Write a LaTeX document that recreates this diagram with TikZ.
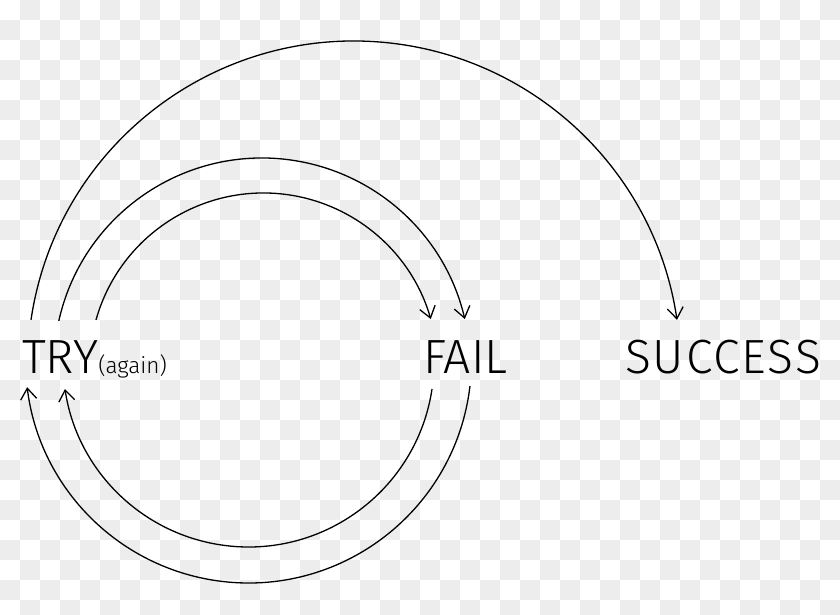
\documentclass[tikz,border=0pt]{standalone}
\usepackage{fontspec}
\IfFontExistsTF{Fira Sans Light}{\setmainfont{Fira Sans Light}}{\setmainfont{Fira Sans}}
\usetikzlibrary{arrows.meta}
\definecolor{chk}{RGB}{237,237,237}
\begin{document}
\begin{tikzpicture}[x=1pt,y=1pt,
  conn/.style={line width=1.3pt, -{Straight Barb[length=11pt,width=16pt,line width=1.3pt]}},
  lbl/.style={inner sep=0pt, anchor=base west, font=\fontsize{48}{48}\selectfont}]
\useasboundingbox (0,0) rectangle (840,614);
\fill[white] (0,0) rectangle (840,614);
\foreach \i in {0,...,41}{
  \foreach \j in {0,...,30}{
    \pgfmathtruncatemacro{\chkpar}{mod(\i+\j,2)}
    \ifnum\chkpar=1 \fill[chk] (20*\i,614-20*\j) rectangle ++(20,-20);\fi
  }
}
\node[lbl] (try) at (22,241) {TRY{\fontsize{22.5}{24}\selectfont(again)}};
\node[lbl] (fail) at (423,241) {FAIL};
\node[lbl] (succ) at (625,241) {\addfontfeatures{LetterSpace=4}SUCCESS};
% arc centres
\coordinate (cO) at (354,246.5);
\coordinate (cM) at (262,247.8);
\coordinate (cI) at (263.5,247);
\coordinate (cLI) at (248.5,252.6);
\coordinate (cLO) at (248.5,254);
% try -> success
\draw[conn] (cO) ++(171.6:326.5) arc[start angle=171.6,end angle=8.4,radius=326.5];
% try -> fail (two)
\draw[conn] (cM) ++(167.45:208.2) arc[start angle=167.45,end angle=13.1,radius=208.2];
\draw[conn] (cI) ++(164.3:174) arc[start angle=164.3,end angle=16,radius=174];
% fail -> try (two)
\draw[conn] (cLI) ++(-8.55:185.6) arc[start angle=-8.55,end angle=-171.45,radius=185.6];
\draw[conn] (cLO) ++(-6.7:223) arc[start angle=-6.7,end angle=-173,radius=223];
\end{tikzpicture}
\end{document}
